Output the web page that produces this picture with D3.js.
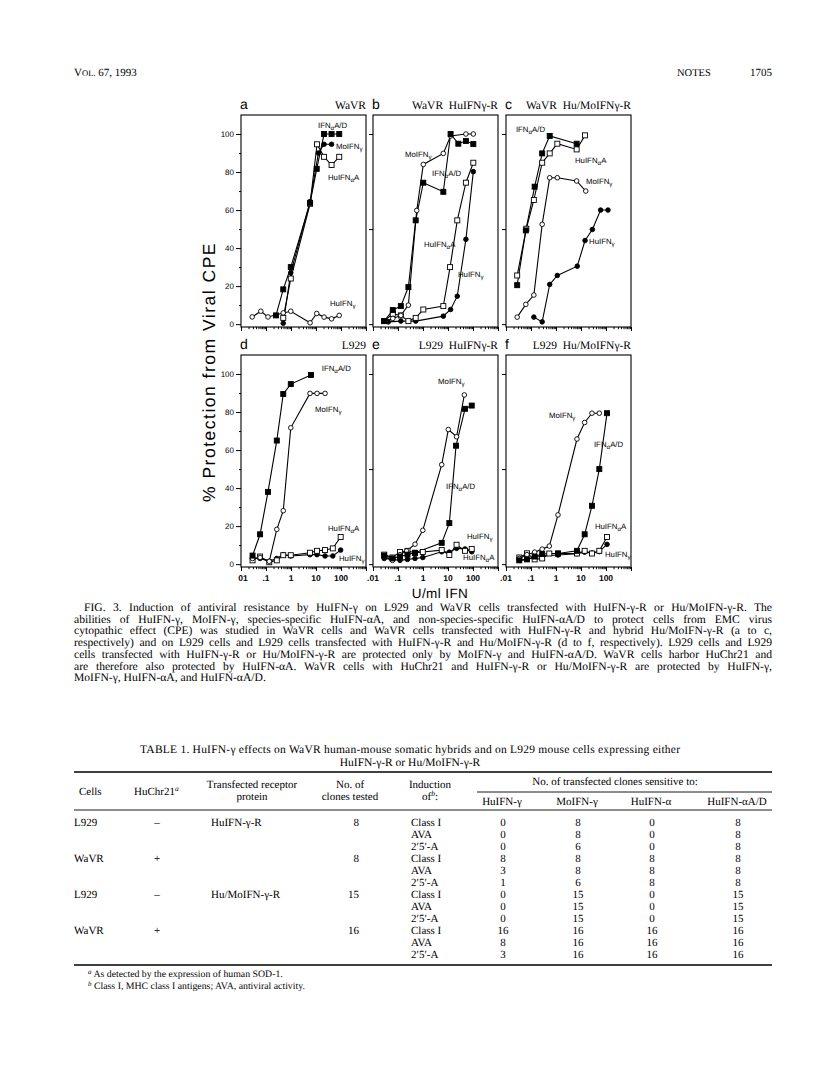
<!DOCTYPE html>
<html><head><meta charset="utf-8">
<script src="https://cdn.jsdelivr.net/npm/d3@7"></script>
<style>body{margin:0;background:#fff}svg{display:block}text{text-rendering:geometricPrecision}</style>
</head><body>
<svg id="page" width="816" height="1077"></svg>
<script>
// ---------------- DATA ----------------
const panelLetters = ["a","b","c","d","e","f"];
const panelTitles = ["WaVR","WaVR  HuIFNγ-R","WaVR  Hu/MoIFNγ-R","L929","L929  HuIFNγ-R","L929  Hu/MoIFNγ-R"];
const xTickValues = [0.01,0.1,1,10,100];
const xTickLabelsD = ["01",".1","1","10","100"];
const xTickLabelsEF = [".01",".1","1","10","100"];
const yTickMajor = [0,20,40,60,80,100];
const yTickMinor = [10,30,50,70,90];
const yTickSparse = [0,50,100];

// [U/ml IFN, % protection]
const aHuG = [[.028,3.8],[.062,6.8],[.12,3.8],[.49,5.9],[.98,6.8],[5.8,0.7],[10.7,5.6],[21,3.7],[42,2.8],[85,4.6]];
const aMoG = [[.49,0.5],[.98,27],[5.8,64.5],[12.5,90],[21,94.6],[42,94.6]];
const aHuA = [[.49,3.3],[.98,24],[5.8,63.3],[11,94.6],[21,88],[42,83.7],[85,88]];
const aAD  = [[.25,4.6],[.49,18.3],[.98,30],[5.8,63.8],[10.7,81.7],[21,100],[42,100],[85,100]];

const bHuG = [[.041,1.2],[.13,1.6],[.51,1.6],[6.5,4.2],[12.7,7.7],[23.5,14.7],[52,44.6],[103,80.2]];
const bMoG = [[.03,1.5],[.062,3],[.13,4.6],[.26,10],[.56,59.8],[1.03,84],[6.5,89.8],[12.7,99],[52,100],[103,100]];
const bHuA = [[.028,1.6],[.062,5.4],[.13,4.6],[.26,1.6],[.51,3.3],[1.03,7.7],[6.5,9.5],[12.1,30],[23.5,54.6],[52,74.4],[103,84.9]];
const bAD  = [[.028,1.6],[.062,7.4],[.13,9.5],[.26,19.5],[.51,54.6],[1.03,74.4],[6.5,69.6],[12.7,100],[25.9,94.9],[52,96.3],[103,94.7]];

const cHuG = [[.13,3.7],[.28,1.2],[.56,20.9],[1.13,25.6],[7.1,30.5],[14.5,44],[28.5,49.8],[61,60],[120,60]];
const cMoG = [[.028,3.7],[.062,10.4],[.13,15.3],[.28,52.5],[.56,77],[1.13,77],[6.7,75.3],[15.5,70]];
const cHuA = [[.028,25.6],[.065,50.2],[.13,65.3],[.28,84.9],[.56,89.8],[1.13,94.9],[6.7,91.9],[14.5,99.3]];
const cAD  = [[.028,20.5],[.062,49.3],[.14,72.3],[.28,89.8],[.56,99],[6.7,94.9]];

const dHuG = [[.029,3],[.058,3],[.135,1.5],[.27,3],[.49,5],[.98,4.3],[5.75,5],[11,5],[23,4.3],[47,4.3],[97,7.4]];
const dMoG = [[.029,3],[.058,3.5],[.135,1.5],[.27,18.3],[.49,28.1],[.98,71.7],[5.75,89.8],[11,89.8],[23,89.8]];
const dHuA = [[.029,2],[.058,4],[.135,1],[.27,2],[.49,4.7],[.98,4.7],[5.75,6],[11,7],[23,7.4],[47,8.3],[97,14.3]];
const dAD  = [[.029,4.5],[.058,15.7],[.12,38],[.27,65],[.49,89.5],[.98,94.7],[6.3,99.5]];

const eHuG = [[.028,3],[.06,2.5],[.12,2],[.24,2.5],[.48,3],[.98,3.5],[5.6,6.5],[11.3,6.3],[22,8.3],[48,8],[89,6.5]];
const eMoG = [[.028,4],[.06,2],[.12,5],[.22,6.9],[.48,10.5],[.98,17.8],[5.6,52.3],[10.3,70.8],[22,67],[45,89]];
const eHuA = [[.028,5],[.06,3.5],[.12,6.4],[.24,7],[.48,5.9],[.98,6.4],[5.6,7.4],[11.3,4.8],[22,10.2],[48,7],[89,8]];
const eAD  = [[.028,4.5],[.06,3],[.12,4],[.24,5],[.48,6],[5.6,11.2],[11.3,21.6],[21,62.3],[48,81.7],[89,83.4]];

const fHuG = [[.034,2],[.069,2.5],[.14,3.5],[.28,4.3],[1.2,4.8],[6.9,5.5],[14,6.3],[27.5,5.9],[54,6.6],[110,10.4]];
const fMoG = [[.034,3],[.069,5],[.14,6.3],[.28,7.9],[.54,9.5],[1.2,25.9],[6.9,65.8],[14,74.5],[27.5,79.4],[54,79.4]];
const fHuA = [[.034,3.5],[.069,5.7],[.14,2.5],[.28,3],[.54,5.6],[1.2,5.6],[6.9,5.6],[14,7],[27.5,5.6],[54,7],[110,14.3]];
const fAD  = [[.034,2],[.069,2.5],[.14,4],[.28,5.3],[1.2,5.6],[6.9,7],[14,15.7],[27.5,30.7],[54,50],[110,79.4]];

const seriesByPanel = [
  {HuG:aHuG,MoG:aMoG,HuA:aHuA,AD:aAD},
  {HuG:bHuG,MoG:bMoG,HuA:bHuA,AD:bAD},
  {HuG:cHuG,MoG:cMoG,HuA:cHuA,AD:cAD},
  {HuG:dHuG,MoG:dMoG,HuA:dHuA,AD:dAD},
  {HuG:eHuG,MoG:eMoG,HuA:eHuA,AD:eAD},
  {HuG:fHuG,MoG:fMoG,HuA:fHuA,AD:fAD}
];
// label anchors in data units (x in U/ml, y in %)
const labelAnchors = [
  {AD:[12,103],MoG:[63,92],HuA:[30,76],HuG:[36,9.5]},
  {MoG:[0.19,88],AD:[2.3,78],HuA:[1.1,40.5],HuG:[25,24.7]},
  {AD:[.025,101],HuA:[5.75,84.7],MoG:[15.8,73.7],HuG:[21,42]},
  {AD:[17,101.5],MoG:[9.1,79.8],HuA:[30,17.6],HuG:[83,1.5]},
  {MoG:[4,95],AD:[8.3,39.4],HuG:[57,13],HuA:[40,2]},
  {MoG:[0.52,76.7],AD:[33,61.7],HuA:[36,18.6],HuG:[91,4]}
];
const seriesLabel = {
  HuG:[["HuIFN",0],["γ",1]],
  MoG:[["MoIFN",0],["γ",1]],
  HuA:[["HuIFN",0],["α",1],["A",0]],
  AD:[["IFN",0],["α",1],["A/D",0]]
};

const captionLines = [
"FIG. 3. Induction of antiviral resistance by HuIFN-γ on L929 and WaVR cells transfected with HuIFN-γ-R or Hu/MoIFN-γ-R. The",
"abilities of HuIFN-γ, MoIFN-γ, species-specific HuIFN-αA, and non-species-specific HuIFN-αA/D to protect cells from EMC virus",
"cytopathic effect (CPE) was studied in WaVR cells and WaVR cells transfected with HuIFN-γ-R and hybrid Hu/MoIFN-γ-R (a to c,",
"respectively) and on L929 cells and L929 cells transfected with HuIFN-γ-R and Hu/MoIFN-γ-R (d to f, respectively). L929 cells and L929",
"cells transfected with HuIFN-γ-R or Hu/MoIFN-γ-R are protected only by MoIFN-γ and HuIFN-αA/D. WaVR cells harbor HuChr21 and",
"are therefore also protected by HuIFN-αA. WaVR cells with HuChr21 and HuIFN-γ-R or Hu/MoIFN-γ-R are protected by HuIFN-γ,",
"MoIFN-γ, HuIFN-αA, and HuIFN-αA/D."
];

const tableTitle = ["TABLE 1. HuIFN-γ effects on WaVR human-mouse somatic hybrids and on L929 mouse cells expressing either",
                    "HuIFN-γ-R or Hu/MoIFN-γ-R"];
const tableSubHeads = ["HuIFN-γ","MoIFN-γ","HuIFN-α","HuIFN-αA/D"];
const tableGroups = [
  {cells:"L929",chr:"–",rec:"HuIFN-γ-R",n:"8"},
  {cells:"WaVR",chr:"+",rec:"",n:"8"},
  {cells:"L929",chr:"–",rec:"Hu/MoIFN-γ-R",n:"15"},
  {cells:"WaVR",chr:"+",rec:"",n:"16"}
];
const inductions = ["Class I","AVA","2′5′-A"];
const tableValues = [
  [[0,8,0,8],[0,8,0,8],[0,6,0,8]],
  [[8,8,8,8],[3,8,8,8],[1,6,8,8]],
  [[0,15,0,15],[0,15,0,15],[0,15,0,15]],
  [[16,16,16,16],[8,16,16,16],[3,16,16,16]]
];
const footnotes = [["a","As detected by the expression of human SOD-1."],
                   ["b","Class I, MHC class I antigens; AVA, antiviral activity."]];

// ---------------- DRAW ----------------
const svg = d3.select("#page");
svg.append("rect").attr("width",816).attr("height",1077).attr("fill","#fff");
const INK = "#000";
const SANS = "'Liberation Sans', Arial, sans-serif";
const SERIF = "'Liberation Serif', 'Times New Roman', serif";

// header
const hdr = svg.append("text").attr("x",74).attr("y",76).attr("font-family",SERIF).attr("fill",INK).attr("font-size",11);
hdr.append("tspan").text("V");
hdr.append("tspan").attr("font-size",8.6).text("OL.");
hdr.append("tspan").text(" 67, 1993");
svg.append("text").attr("x",677).attr("y",76).attr("font-family",SERIF).attr("font-size",10.5).attr("fill",INK).text("NOTES");
svg.append("text").attr("x",772).attr("y",76).attr("text-anchor","end").attr("font-family",SERIF).attr("font-size",11).attr("fill",INK).text("1705");

// figure
const colLeft = [241,373,506];
const rowTop = [115,355];
const PW = 125, PH = 212;

function addParts(sel, parts){
  parts.forEach(([t,sub],k)=>{
    const ts = sel.append("tspan").text(t);
    if(sub) ts.attr("font-size","0.8em").attr("dy",2);
    else if(k>0) ts.attr("dy",-2);
  });
}

panelLetters.forEach((L,i)=>{
  const r = Math.floor(i/3), c = i%3;
  const x0 = colLeft[c], y0 = rowTop[r];
  const x = d3.scaleLog().domain([0.01,1000]).range([x0,x0+PW]);
  const y = d3.scaleLinear().domain([-1.5,110]).range([y0+PH,y0]);
  const g = svg.append("g");

  g.append("rect").attr("x",x0).attr("y",y0).attr("width",PW).attr("height",PH)
    .attr("fill","none").attr("stroke",INK).attr("stroke-width",1.1);

  const xa = d3.axisBottom(x).tickSizeOuter(0).tickSize(2).tickValues(x.ticks()).tickFormat("");
  const gx = g.append("g").attr("transform",`translate(0,${y0+PH})`).call(xa);
  gx.select(".domain").remove();
  gx.selectAll(".tick line").attr("stroke",INK)
    .attr("y2",d=>Math.abs(Math.log10(d)-Math.round(Math.log10(d)))<1e-6?4:2.2);
  if(r===1){
    const labs = (i===3)?xTickLabelsD:xTickLabelsEF;
    g.selectAll(".xl").data(xTickValues).enter().append("text")
      .attr("x",(d,k)=>x(d)+(k===0&&i===3?2:0)).attr("y",y0+PH+14)
      .attr("text-anchor","middle").attr("font-family",SANS).attr("font-size",8.5)
      .attr("font-weight","bold").attr("fill",INK).text((d,k)=>labs[k]);
  }

  if(c===0){
    const ya = d3.axisLeft(y).tickValues(yTickMajor).tickSize(5).tickPadding(2);
    const gy = g.append("g").attr("transform",`translate(${x0},0)`).call(ya);
    gy.select(".domain").remove();
    gy.selectAll(".tick line").attr("stroke",INK);
    gy.selectAll(".tick text").attr("font-family",SANS).attr("font-size",8).attr("fill",INK);
    const ym = d3.axisLeft(y).tickValues(yTickMinor).tickSize(2).tickFormat("");
    const gm = g.append("g").attr("transform",`translate(${x0},0)`).call(ym);
    gm.select(".domain").remove();
    gm.selectAll(".tick line").attr("stroke",INK);
  } else {
    const ya = d3.axisLeft(y).tickValues(yTickSparse).tickSize(4).tickFormat("");
    const gy = g.append("g").attr("transform",`translate(${x0},0)`).call(ya);
    gy.select(".domain").remove();
    gy.selectAll(".tick line").attr("stroke",INK);
  }

  g.append("text").attr("x",x0-1).attr("y",y0-6).attr("font-family",SANS).attr("font-size",14).attr("fill",INK).text(L);
  g.append("text").attr("x",x0+PW).attr("y",y0-6).attr("text-anchor","end").attr("font-family",SERIF)
    .attr("font-size",11.5).attr("fill",INK).style("white-space","pre").text(panelTitles[i]);

  const S = seriesByPanel[i];
  const marker = (i===0)
    ? {HuG:["circle",false],MoG:["circle",true],HuA:["square",false],AD:["square",true]}
    : {HuG:["circle",true],MoG:["circle",false],HuA:["square",false],AD:["square",true]};
  const line = d3.line().x(d=>x(d[0])).y(d=>y(d[1]));
  ["HuG","HuA","MoG","AD"].forEach(k=>{
    g.append("path").datum(S[k]).attr("d",line).attr("fill","none").attr("stroke",INK).attr("stroke-width",1.1);
  });
  ["HuG","HuA","MoG","AD"].forEach(k=>{
    const [shape,filled] = marker[k];
    const sel = g.selectAll(null).data(S[k]).enter();
    if(shape==="circle"){
      sel.append("circle").attr("cx",d=>x(d[0])).attr("cy",d=>y(d[1])).attr("r",2.3)
        .attr("fill",filled?INK:"#fff").attr("stroke",INK).attr("stroke-width",0.9);
    } else {
      sel.append("rect").attr("x",d=>x(d[0])-2.5).attr("y",d=>y(d[1])-2.5).attr("width",5).attr("height",5)
        .attr("fill",filled?INK:"#fff").attr("stroke",INK).attr("stroke-width",0.9);
    }
  });
  const A = labelAnchors[i];
  Object.keys(A).forEach(k=>{
    const t = g.append("text").attr("x",x(A[k][0])).attr("y",y(A[k][1]))
      .attr("font-family",SANS).attr("font-size",7.8).attr("fill",INK);
    addParts(t, seriesLabel[k]);
  });
});

// axis titles
svg.append("text").attr("transform","translate(215,372) rotate(-90)").attr("text-anchor","middle")
  .attr("font-family",SANS).attr("font-size",17.5).attr("letter-spacing",1.5).attr("fill",INK)
  .text("% Protection from Viral CPE");
svg.append("text").attr("x",440).attr("y",598).attr("text-anchor","middle")
  .attr("font-family",SANS).attr("font-size",13.5).attr("letter-spacing",0.4).attr("fill",INK).text("U/ml IFN");

// caption
const CAP_L = 74, CAP_R = 772, CAP_IND = 10;
let capSize = 11.6;
const capTexts = captionLines.map((s,k)=>svg.append("text")
  .attr("x",CAP_L + (k===0?CAP_IND:0)).attr("y",611 + k*11.7)
  .attr("font-family",SERIF).attr("font-size",capSize).attr("fill",INK).text(s));
let worst = 1;
capTexts.forEach((t,k)=>{ if(k<captionLines.length-1){
  const tgt = CAP_R - CAP_L - (k===0?CAP_IND:0);
  worst = Math.min(worst, tgt / t.node().getComputedTextLength()); }});
if(worst<1){ capSize *= worst*0.985; capTexts.forEach(t=>t.attr("font-size",capSize)); }
capTexts.forEach((t,k)=>{ if(k<captionLines.length-1){
  const tgt = CAP_R - CAP_L - (k===0?CAP_IND:0);
  const len = t.node().getComputedTextLength();
  const n = (captionLines[k].match(/ /g)||[]).length;
  t.style("word-spacing", ((tgt-len)/n)+"px"); }});

// table
const TS = 11;
svg.append("text").attr("x",410).attr("y",753).attr("text-anchor","middle")
  .attr("font-family",SERIF).attr("font-size",11.5).attr("fill",INK)
  .attr("textLength",540).attr("lengthAdjust","spacing").text(tableTitle[0]);
svg.append("text").attr("x",410).attr("y",766).attr("text-anchor","middle")
  .attr("font-family",SERIF).attr("font-size",11.5).attr("fill",INK).text(tableTitle[1]);
const rule=(x1,x2,yy,w)=>svg.append("line").attr("x1",x1).attr("x2",x2).attr("y1",yy).attr("y2",yy).attr("stroke",INK).attr("stroke-width",w);
rule(74,772,772,1.6); rule(477,772,792,0.9); rule(74,772,810,0.9); rule(74,772,965,1.6);
const tt=(x,yy,s,anchor)=>svg.append("text").attr("x",x).attr("y",yy).attr("text-anchor",anchor||"middle")
  .attr("font-family",SERIF).attr("font-size",TS).attr("fill",INK).text(s);
tt(79,795,"Cells","start");
const hc = tt(134,795,"HuChr21","start"); hc.append("tspan").attr("font-size",7.5).attr("font-style","italic").attr("dy",-4).text("a");
tt(252,788,"Transfected receptor"); tt(252,800,"protein");
tt(350,788,"No. of"); tt(350,800,"clones tested");
tt(430,788,"Induction");
const ofb = tt(430,800,"of"); ofb.append("tspan").attr("font-size",7.5).attr("font-style","italic").attr("dy",-4).text("b");
ofb.append("tspan").attr("dy",4).text(":");
tt(615,785,"No. of transfected clones sensitive to:");
const subX = [502,577,651,737];
tableSubHeads.forEach((s,k)=>tt(subX[k],805,s));
tableGroups.forEach((gp,gi)=>{
  const by = 826 + gi*36;
  tt(74,by,gp.cells,"start"); tt(157,by,gp.chr); if(gp.rec) tt(211,by,gp.rec,"start");
  tt(359,by,gp.n,"end");
  inductions.forEach((ind,ii)=>{
    const yy = by + ii*12;
    tt(411,yy,ind,"start");
    tableValues[gi][ii].forEach((v,vi)=>tt(subX[vi]+1,yy,String(v)));
  });
});
footnotes.forEach(([m,s],k)=>{
  const t = svg.append("text").attr("x",88).attr("y",977+k*12).attr("font-family",SERIF).attr("font-size",9.8).attr("fill",INK);
  t.append("tspan").attr("font-style","italic").attr("font-size",7).attr("dy",-3).text(m);
  t.append("tspan").attr("dy",3).text(" "+s);
});
</script>
</body></html>
